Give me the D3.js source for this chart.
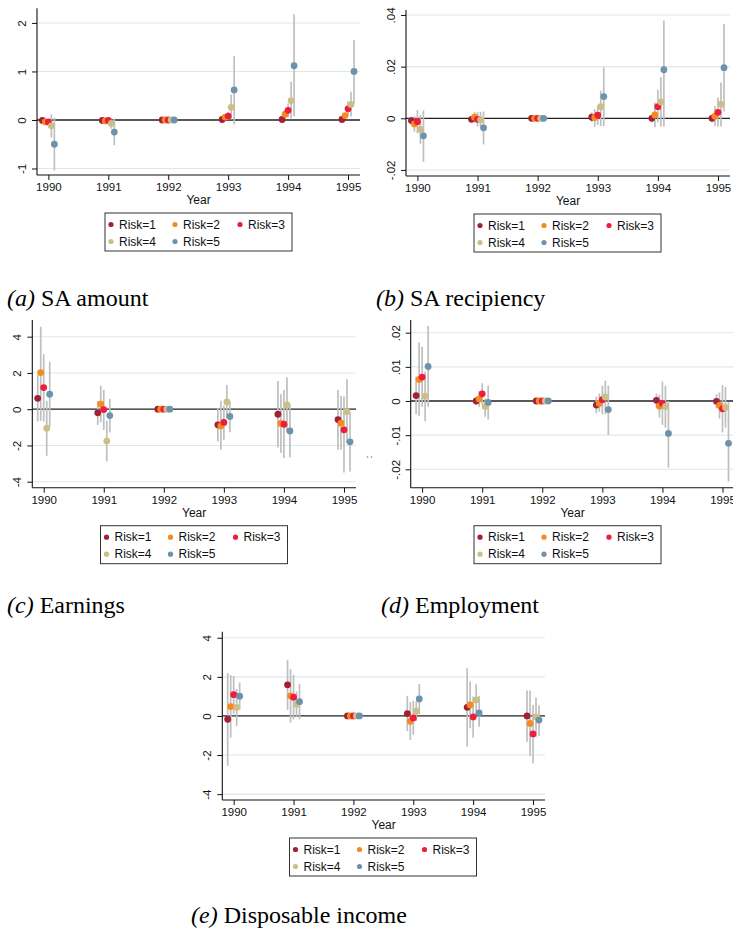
<!DOCTYPE html>
<html>
<head>
<meta charset="utf-8">
<script src="https://cdn.jsdelivr.net/npm/d3@7/dist/d3.min.js"></script>
<style>
  html, body { margin: 0; padding: 0; background: #fff; }
  svg { display: block; }
</style>
</head>
<body>
<svg id="fig" width="733" height="929"></svg>
<script>
// Event-study estimates by risk group, 1990-1995 (1992 = reference year)
const years = [1990, 1991, 1992, 1993, 1994, 1995];
const riskLabels = ["Risk=1", "Risk=2", "Risk=3", "Risk=4", "Risk=5"];
const riskColors = ["#a32134", "#f68a1e", "#ef1d3c", "#cbbf85", "#6c93ab"];
const riskOffsets = [-0.1, -0.05, 0, 0.05, 0.1];

// (a) SA amount — rows: risk groups, columns: years
const saAmountEst = [
  [-0.01, -0.01, 0, 0.01, 0.01, 0.01],
  [-0.04, -0.02, 0, 0.06, 0.12, 0.09],
  [-0.04, -0.01, 0, 0.08, 0.20, 0.23],
  [-0.12, -0.07, 0, 0.26, 0.40, 0.32],
  [-0.50, -0.25, 0, 0.62, 1.12, 1.00]
];
const saAmountLo = [
  [-0.05, -0.04, 0, -0.02, -0.02, -0.02],
  [-0.09, -0.06, 0, 0.00, 0.04, 0.03],
  [-0.10, -0.06, 0, 0.00, 0.05, 0.10],
  [-0.36, -0.18, 0, 0.01, 0.03, 0.07],
  [-1.04, -0.52, 0, -0.09, 0.07, 0.34]
];
const saAmountHi = [
  [0.03, 0.02, 0, 0.04, 0.04, 0.04],
  [0.01, 0.02, 0, 0.12, 0.20, 0.15],
  [0.02, 0.04, 0, 0.17, 0.34, 0.38],
  [0.12, 0.04, 0, 0.52, 0.79, 0.58],
  [0.05, 0.03, 0, 1.32, 2.18, 1.65]
];
const saAmountTicks = [-1, 0, 1, 2];
const saAmountTickLabels = ["-1", "0", "1", "2"];

// (b) SA recipiency
const saRecipEst = [
  [-0.0009, -0.0004, 0, 0.0004, 0.0000, 0.0000],
  [-0.0022, 0.0004, 0, 0.0003, 0.0013, 0.0008],
  [-0.0013, -0.0004, 0, 0.0012, 0.0045, 0.0023],
  [-0.0043, -0.0006, 0, 0.0045, 0.0063, 0.0054],
  [-0.0068, -0.0037, 0, 0.0084, 0.0188, 0.0196]
];
const saRecipLo = [
  [-0.0025, -0.0015, 0, -0.0015, -0.0015, -0.0015],
  [-0.0052, -0.0017, 0, -0.0033, -0.0035, -0.0030],
  [-0.0058, -0.0032, 0, -0.0026, -0.0015, -0.0032],
  [-0.0099, -0.0035, 0, -0.0030, -0.0032, -0.0032],
  [-0.0168, -0.0101, 0, -0.0030, -0.0032, 0.0026]
];
const saRecipHi = [
  [0.0007, 0.0007, 0, 0.0023, 0.0015, 0.0015],
  [0.0008, 0.0025, 0, 0.0035, 0.0061, 0.0047],
  [0.0032, 0.0024, 0, 0.0050, 0.0110, 0.0080],
  [0.0013, 0.0025, 0, 0.0107, 0.0159, 0.0139],
  [0.0030, 0.0026, 0, 0.0197, 0.0379, 0.0365]
];
const saRecipTicks = [-0.02, 0, 0.02, 0.04];
const saRecipTickLabels = ["-.02", "0", ".02", ".04"];

// (c) Earnings
const earningsEst = [
  [0.60, -0.20, 0, -0.86, -0.28, -0.57],
  [2.02, 0.28, 0, -0.92, -0.79, -0.77],
  [1.19, -0.02, 0, -0.73, -0.83, -1.14],
  [-1.05, -1.76, 0, 0.40, 0.24, -0.13],
  [0.83, -0.35, 0, -0.40, -1.20, -1.80]
];
const earningsLo = [
  [-0.68, -0.86, 0, -1.78, -2.11, -2.24],
  [-0.64, -0.72, 0, -2.24, -2.42, -2.24],
  [-0.68, -1.14, 0, -1.69, -2.70, -3.49],
  [-2.57, -2.88, 0, -0.50, -1.27, -1.87],
  [-0.95, -1.28, 0, -1.27, -2.66, -3.43]
];
const earningsHi = [
  [1.90, 0.46, 0, 0.06, 1.56, 1.06],
  [4.55, 1.30, 0, 0.46, 0.83, 0.73],
  [3.03, 1.06, 0, 0.20, 1.06, 0.70],
  [0.46, -0.64, 0, 1.34, 1.76, 1.65],
  [2.62, 0.57, 0, 0.42, 0.24, -0.18]
];
const earningsTicks = [-4, -2, 0, 2, 4];
const earningsTickLabels = ["-4", "-2", "0", "2", "4"];

// (d) Employment
const employmentEst = [
  [0.0016, 0.0000, 0, -0.0012, 0.0002, -0.0001],
  [0.0063, 0.0006, 0, -0.0007, -0.0015, -0.0013],
  [0.0070, 0.0021, 0, 0.0004, -0.0007, -0.0023],
  [0.0014, -0.0016, 0, 0.0012, -0.0016, -0.0019],
  [0.0101, -0.0004, 0, -0.0025, -0.0095, -0.0124]
];
const employmentLo = [
  [-0.0039, -0.0012, 0, -0.0036, -0.0020, -0.0021],
  [-0.0043, -0.0017, 0, -0.0031, -0.0049, -0.0051],
  [-0.0017, -0.0010, 0, -0.0039, -0.0070, -0.0092],
  [-0.0059, -0.0046, 0, -0.0039, -0.0078, -0.0078],
  [-0.0017, -0.0054, 0, -0.0100, -0.0195, -0.0236]
];
const employmentHi = [
  [0.0071, 0.0012, 0, 0.0013, 0.0022, 0.0020],
  [0.0171, 0.0029, 0, 0.0022, 0.0018, 0.0025],
  [0.0159, 0.0052, 0, 0.0045, 0.0057, 0.0047],
  [0.0086, 0.0008, 0, 0.0060, 0.0045, 0.0042],
  [0.0220, 0.0045, 0, 0.0045, 0.0000, -0.0004]
];
const employmentTicks = [-0.02, -0.01, 0, 0.01, 0.02];
const employmentTickLabels = ["-.02", "-.01", "0", ".01", ".02"];

// (e) Disposable income
const dispIncomeEst = [
  [-0.17, 1.59, 0, 0.12, 0.44, 0.00],
  [0.48, 1.03, 0, -0.27, 0.56, -0.38],
  [1.09, 0.96, 0, -0.10, -0.05, -0.92],
  [0.44, 0.60, 0, 0.24, 0.82, -0.05],
  [1.01, 0.73, 0, 0.87, 0.15, -0.21]
];
const dispIncomeLo = [
  [-2.55, 0.31, 0, -0.77, -1.57, -1.32],
  [-1.11, -0.34, 0, -1.23, -0.63, -2.05],
  [0.10, -0.17, 0, -0.97, -1.11, -2.43],
  [-0.51, -0.03, 0, -0.26, 0.05, -1.06],
  [0.31, -0.17, 0, 0.10, -0.55, -1.03]
];
const dispIncomeHi = [
  [2.19, 2.87, 0, 1.03, 2.44, 1.30],
  [2.10, 2.39, 0, 0.70, 1.76, 1.30],
  [2.05, 2.10, 0, 0.77, 0.99, 0.56],
  [1.38, 1.25, 0, 0.74, 1.62, 0.94],
  [1.71, 1.64, 0, 1.64, 1.02, 0.53]
];
const dispIncomeTicks = [-4, -2, 0, 2, 4];
const dispIncomeTickLabels = ["-4", "-2", "0", "2", "4"];

// Panel layout: plot box (left, right, top, bottom), y-domain, legend left, caption
const panels = [
  { est: saAmountEst, lo: saAmountLo, hi: saAmountHi, ticks: saAmountTicks, tickLabels: saAmountTickLabels,
    left: 37, right: 360, top: 8.3, bottom: 175, yDomain: [-1.134, 2.302], legendLeft: 105,
    capX: 7, capY: 306, capTag: "(a)", capText: " SA amount" },
  { est: saRecipEst, lo: saRecipLo, hi: saRecipHi, ticks: saRecipTicks, tickLabels: saRecipTickLabels,
    left: 406, right: 730, top: 10, bottom: 176, yDomain: [-0.02234, 0.04192], legendLeft: 474,
    capX: 376, capY: 306, capTag: "(b)", capText: " SA recipiency" },
  { est: earningsEst, lo: earningsLo, hi: earningsHi, ticks: earningsTicks, tickLabels: earningsTickLabels,
    left: 32.3, right: 356, top: 320, bottom: 487.7, yDomain: [-4.33, 4.92], legendLeft: 100.5,
    capX: 7, capY: 613, capTag: "(c)", capText: " Earnings" },
  { est: employmentEst, lo: employmentLo, hi: employmentHi, ticks: employmentTicks, tickLabels: employmentTickLabels,
    left: 410.7, right: 734.5, top: 320, bottom: 487.7, yDomain: [-0.02538, 0.02372], legendLeft: 474,
    capX: 381, capY: 613, capTag: "(d)", capText: " Employment" },
  { est: dispIncomeEst, lo: dispIncomeLo, hi: dispIncomeHi, ticks: dispIncomeTicks, tickLabels: dispIncomeTickLabels,
    left: 222.3, right: 545, top: 631.7, bottom: 800, yDomain: [-4.30, 4.31], legendLeft: 289.5,
    capX: 191, capY: 923, capTag: "(e)", capText: " Disposable income" }
];

const svg = d3.select("#fig");
const sans = "'Liberation Sans', Arial, Helvetica, sans-serif";
const serif = "'Liberation Serif', 'Times New Roman', Times, serif";

function drawPanel(p) {
  const g = svg.append("g");
  const x = d3.scaleLinear().domain([1989.81, 1995.2]).range([p.left, p.right]);
  const y = d3.scaleLinear().domain(p.yDomain).range([p.bottom, p.top]);

  // horizontal grid lines at the non-zero ticks
  g.selectAll("line.grid").data(p.ticks.filter(t => t !== 0)).enter()
    .append("line").attr("class", "grid")
    .attr("x1", p.left).attr("x2", p.right)
    .attr("y1", d => y(d)).attr("y2", d => y(d))
    .attr("stroke", "#dde8eb").attr("stroke-width", 1.1);

  // reference line at zero
  g.append("line")
    .attr("x1", p.left).attr("x2", p.right)
    .attr("y1", y(0)).attr("y2", y(0))
    .attr("stroke", "#222").attr("stroke-width", 1.3);

  // y axis
  const yAxis = d3.axisLeft(y).tickValues(p.ticks)
    .tickFormat((d, i) => p.tickLabels[i]).tickSize(5).tickPadding(3);
  const ya = g.append("g").attr("transform", `translate(${p.left},0)`).call(yAxis);
  ya.select(".domain").attr("d", `M0,${p.top}V${p.bottom}`).attr("stroke", "#111").attr("stroke-width", 1.1);
  ya.selectAll(".tick line").attr("stroke", "#111");
  ya.selectAll(".tick text")
    .attr("font-family", sans).attr("font-size", 11.5).attr("fill", "#111")
    .attr("x", null).attr("dy", null)
    .attr("text-anchor", "middle")
    .attr("transform", "translate(-11,0) rotate(-90)");

  // x axis
  const xAxis = d3.axisBottom(x).tickValues(years).tickFormat(d3.format("d"))
    .tickSize(5).tickPadding(3);
  const xa = g.append("g").attr("transform", `translate(0,${p.bottom})`).call(xAxis);
  xa.select(".domain").attr("d", `M${p.left},0H${p.right}`).attr("stroke", "#111").attr("stroke-width", 1.1);
  xa.selectAll(".tick line").attr("stroke", "#111");
  xa.selectAll(".tick text").attr("font-family", sans).attr("font-size", 11.5).attr("fill", "#111");

  g.append("text")
    .attr("x", (p.left + p.right) / 2 - (p.right > 733 ? 0 : 0)).attr("y", p.bottom + 29)
    .attr("text-anchor", "middle").attr("font-family", sans).attr("font-size", 12).attr("fill", "#111")
    .text("Year");

  // build point records from the series arrays
  const pts = [];
  p.est.forEach((row, r) => row.forEach((v, j) => {
    pts.push({ r, year: years[j], v, lo: p.lo[r][j], hi: p.hi[r][j] });
  }));

  // confidence intervals
  g.selectAll("line.ci").data(pts).enter().append("line").attr("class", "ci")
    .attr("x1", d => x(d.year + riskOffsets[d.r])).attr("x2", d => x(d.year + riskOffsets[d.r]))
    .attr("y1", d => y(d.lo)).attr("y2", d => y(d.hi))
    .attr("stroke", "#bfbfbf").attr("stroke-width", 1.7);

  // point estimates
  g.selectAll("circle.pt").data(pts).enter().append("circle").attr("class", "pt")
    .attr("cx", d => x(d.year + riskOffsets[d.r]))
    .attr("cy", d => y(d.v))
    .attr("r", 3.4)
    .attr("fill", d => riskColors[d.r]);

  // legend
  const lg = g.append("g").attr("transform", `translate(${p.legendLeft},${p.bottom + 38})`);
  lg.append("rect").attr("width", 187).attr("height", 38)
    .attr("fill", "#fff").attr("stroke", "#333").attr("stroke-width", 1);
  const colX = [6, 70, 135];
  riskLabels.forEach((lab, i) => {
    const cx = colX[i % 3], cy = i < 3 ? 11.5 : 28.5;
    lg.append("circle").attr("cx", cx).attr("cy", cy).attr("r", 2.6).attr("fill", riskColors[i]);
    lg.append("text").attr("x", cx + 8).attr("y", cy + 4.2)
      .attr("font-family", sans).attr("font-size", 12).attr("fill", "#111").text(lab);
  });

  // caption
  const cap = svg.append("text").attr("x", p.capX).attr("y", p.capY)
    .attr("font-family", serif).attr("font-size", 24).attr("fill", "#000");
  cap.append("tspan").attr("font-style", "italic").text(p.capTag);
  cap.append("tspan").text(p.capText);
}

panels.forEach(drawPanel);

// small leftover mark of the employment panel's axis title
svg.append("text").attr("x", 369).attr("y", 457)
  .attr("text-anchor", "middle").attr("font-family", sans).attr("font-size", 9).attr("fill", "#111")
  .attr("transform", "rotate(-90,369,457)").attr("dy", "0.3em").text(":");
</script>
</body>
</html>
